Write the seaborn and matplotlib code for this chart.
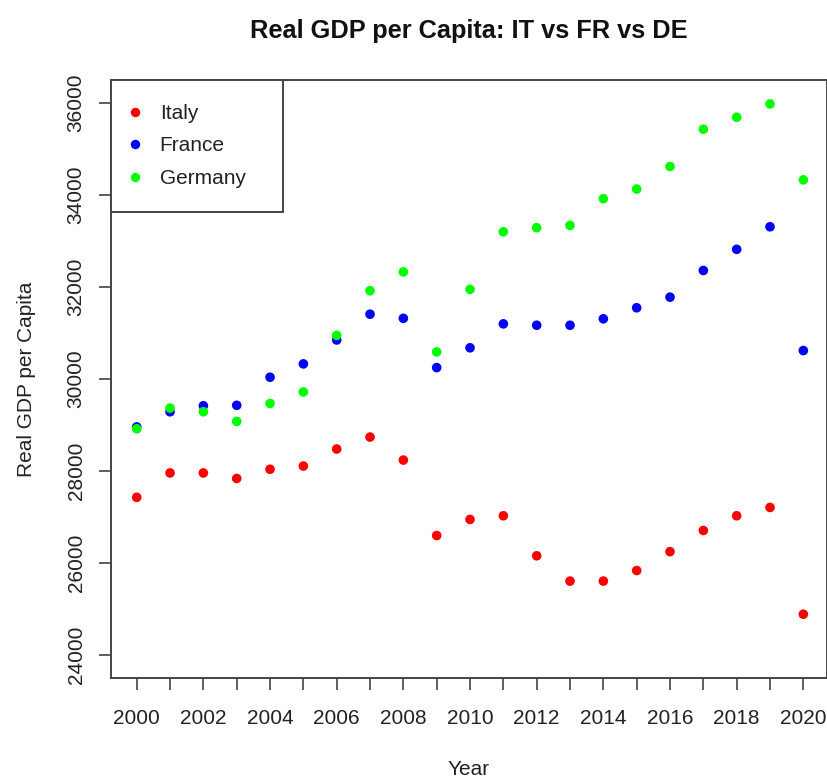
import matplotlib
matplotlib.use("Agg")
import matplotlib.pyplot as plt
from matplotlib.lines import Line2D
import numpy as np
import pandas as pd
import seaborn as sns

# values
years = list(range(2000, 2021))
italy = [27420, 27950, 27950, 27830, 28030, 28100, 28470, 28730, 28230, 26590,
         26940, 27020, 26150, 25600, 25600, 25830, 26240, 26700, 27020, 27200, 24880]
france = [28950, 29280, 29410, 29420, 30030, 30320, 30840, 31400, 31310, 30240,
          30670, 31190, 31160, 31160, 31300, 31540, 31770, 32350, 32810, 33300, 30610]
germany = [28910, 29360, 29280, 29070, 29460, 29710, 30940, 31910, 32320, 30580,
           31940, 33190, 33280, 33330, 33910, 34120, 34610, 35420, 35680, 35970, 34320]
countries = ["Italy", "France", "Germany"]
colors = ["#FF0000", "#0000FF", "#00FF00"]
y_ticks = [24000, 26000, 28000, 30000, 32000, 34000, 36000]

df = pd.DataFrame({
    "Year": years * 3,
    "gdp": italy + france + germany,
    "country": [c for c in countries for _ in years],
})

sns.set_theme(style="white")
plt.rcParams["font.family"] = ["Liberation Sans", "DejaVu Sans"]

fig = plt.figure(figsize=(8.28, 7.78), dpi=100)
ax = fig.add_axes([0.1337, 0.1289, 0.8647, 0.7683])

sns.scatterplot(data=df, x="Year", y="gdp", hue="country", hue_order=countries,
                palette=colors, s=48, linewidth=0, legend=False, ax=ax)

ax.set_xlim(1999.22, 2020.70)
ax.set_ylim(23500, 36490)

# ticks every year, labels on even years only (like R)
ax.set_xticks(years)
ax.set_xticklabels([str(y) if y % 2 == 0 else "" for y in years])
ax.set_yticks(y_ticks)
ax.set_yticklabels([str(v) for v in y_ticks], rotation=90, va="center")

ax.tick_params(axis="both", direction="out", length=8.6, width=1.2,
               color="#444444", labelsize=15, labelcolor="#222222")
ax.tick_params(axis="x", pad=14)
ax.tick_params(axis="y", pad=9.5)
ax.tick_params(bottom=True, left=True)

for sp in ax.spines.values():
    sp.set_color("#444444")
    sp.set_linewidth(1.4)

ax.set_xlabel("Year", fontsize=15, color="#222222")
ax.set_ylabel("Real GDP per Capita", fontsize=15, color="#222222")
ax.xaxis.set_label_coords(0.5, -0.153)
ax.yaxis.set_label_coords(-0.118, 0.5)
ax.xaxis.label.set_va("center")
ax.yaxis.label.set_va("center")

ax.set_title("Real GDP per Capita: IT vs FR vs DE", fontsize=18.3, fontweight="bold",
             color="#111111", y=1.0698, pad=0)

handles = [Line2D([], [], linestyle="", marker="o", markersize=6.8,
                  markerfacecolor=c, markeredgewidth=0) for c in colors]
leg = ax.legend(handles, countries, loc="upper left",
                bbox_to_anchor=(0, 0.79, 0.2402, 0.21), mode="expand",
                borderaxespad=0, fontsize=15, frameon=True, fancybox=False,
                borderpad=1.15, handlelength=0.05, handletextpad=1.15,
                labelspacing=0.65, framealpha=1)
leg.get_frame().set_edgecolor("#444444")
leg.get_frame().set_linewidth(1.4)
for t in leg.get_texts():
    t.set_color("#222222")

fig.savefig("out.png", dpi=100, facecolor="white")
